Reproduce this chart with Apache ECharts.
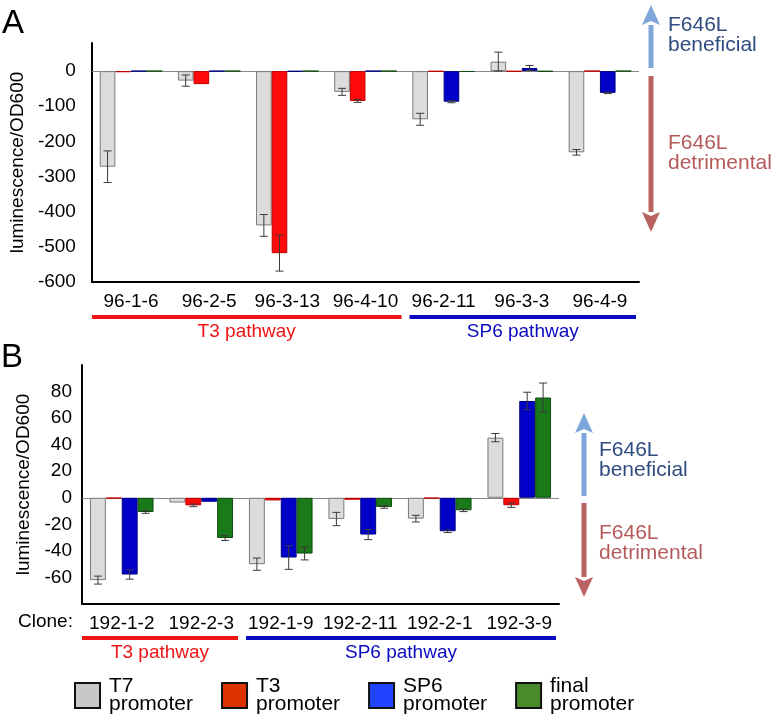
<!DOCTYPE html>
<html><head><meta charset="utf-8">
<script src="https://cdn.jsdelivr.net/npm/echarts@6/dist/echarts.min.js"></script>
<style>html,body{margin:0;padding:0;background:#fff}#c{width:780px;height:718px}</style>
</head><body><div id="c"></div>
<script>
// ---------- DATA ----------
const seriesNames = ['T7 promoter', 'T3 promoter', 'SP6 promoter', 'final promoter'];

const catsA = ['96-1-6', '96-2-5', '96-3-13', '96-4-10', '96-2-11', '96-3-3', '96-4-9'];
const t7A    = [-272, -27, -439, -59, -137, 27, -231];
const t7ErrA = [45, 16, 31, 10, 17, 27, 8];
const t3A    = [-3, -37, -518, -85, -1, -1, 0];
const t3ErrA = [0, 0, 51, 4, 0, 0, 0];
const sp6A   = [0, 0, -1, 0, -87, 9, -62];
const sp6ErrA= [0, 0, 0, 0, 3, 7, 2];
const finA   = [0, 0, 0, 0, -2, -1, 0];
const finErrA= [0, 0, 0, 0, 0, 0, 0];
const yTicksA = [-600, -500, -400, -300, -200, -100, 0];

const catsB = ['192-1-2', '192-2-3', '192-1-9', '192-2-11', '192-2-1', '192-3-9'];
const t7B    = [-62, -3.6, -50, -16, -15.7, 45.3];
const t7ErrB = [3, 0, 4.6, 5, 2.5, 3.1];
const t3B    = [-0.5, -5.7, -2, -1.5, -0.5, -5.6];
const t3ErrB = [0, 1, 0, 0, 0, 1.6];
const sp6B   = [-57.8, -3, -45, -27.7, -25.2, 72.9];
const sp6ErrB= [3.5, 0, 8.9, 3.8, 1, 6.6];
const finB   = [-10.7, -30.3, -42, -6.9, -9.4, 75.5];
const finErrB= [1, 1.8, 4.8, 1, 1, 10.9];
const yTicksB = [-60, -40, -20, 0, 20, 40, 60, 80];

const pathwaysA = [['T3 pathway', 0, 3], ['SP6 pathway', 4, 6]];
const pathwaysB = [['T3 pathway', 0, 1], ['SP6 pathway', 2, 5]];

// ---------- STYLE ----------
const FONT = '"Liberation Sans", Arial, Helvetica, sans-serif';
const barFill   = ['#dcdcdc', '#ff0a0a', '#0000c8', '#1a7a1a'];
const barBorder = ['#7a7a7a', '#c00000', '#000080', '#0d4d0d'];
const legendFill = ['#c8c8c8', '#dd3300', '#2244ff', '#4a8a2a'];
const pathColor = {'T3 pathway': '#ee1414', 'SP6 pathway': '#0a0ac0'};

const chart = echarts.init(document.getElementById('c'), null, {renderer: 'canvas'});

function errData(vals, errs) {
  const out = [];
  vals.forEach((v, s) => {
    v.forEach((val, i) => { if (errs[s][i] > 0) out.push([i, s, val, errs[s][i]]); });
  });
  return out;
}
function renderErr(params, api) {
  const cat = api.value(0), s = api.value(1), v = api.value(2), e = api.value(3);
  const cw = api.size([1, 0])[0];
  const bw = cw * 0.8 / 4;
  const cx = api.coord([cat, 0])[0] - cw * 0.4 + (s + 0.5) * bw;
  const yH = api.coord([cat, v + e])[1];
  const yL = api.coord([cat, v - e])[1];
  const st = {stroke: '#3a3a3a', lineWidth: 1};
  return {type: 'group', children: [
    {type: 'line', shape: {x1: cx, y1: yH, x2: cx, y2: yL}, style: st},
    {type: 'line', shape: {x1: cx - 4, y1: yH, x2: cx + 4, y2: yH}, style: st},
    {type: 'line', shape: {x1: cx - 4, y1: yL, x2: cx + 4, y2: yL}, style: st}
  ]};
}

function xAxisCfg(cats, gi) {
  return {type: 'category', gridIndex: gi, data: cats, boundaryGap: true,
    axisLine: {onZero: false, lineStyle: {color: '#000', width: 2}},
    axisTick: {inside: true, length: 7, lineStyle: {color: '#000', width: 2}},
    axisLabel: {interval: 0, fontSize: 19, color: '#000', fontFamily: FONT, margin: 10},
    splitLine: {show: false}};
}
function yAxisCfg(gi, min, max, interval, ticks, margin, nameGap) {
  return {type: 'value', gridIndex: gi, min: min, max: max, interval: interval,
    name: 'luminescence/OD600', nameLocation: 'middle', nameGap: nameGap,
    nameTextStyle: {fontSize: 19, color: '#000', fontFamily: FONT},
    axisLine: {show: true, lineStyle: {color: '#000', width: 2}},
    axisTick: {show: false}, splitLine: {show: false},
    axisLabel: {fontSize: 19, color: '#000', fontFamily: FONT, margin: margin,
      formatter: v => ticks.indexOf(v) >= 0 ? String(v) : ''}};
}

const series = [];
function addPanel(gi, vals, errs) {
  vals.forEach((v, s) => {
    const ser = {type: 'bar', name: seriesNames[s], xAxisIndex: gi, yAxisIndex: gi,
      data: v, barGap: '0%', barCategoryGap: '20%',
      itemStyle: {color: barFill[s], borderColor: barBorder[s], borderWidth: 1},
      emphasis: {disabled: true}};
    if (s === 0) {
      ser.markLine = {silent: true, symbol: ['none', 'none'], label: {show: false},
        lineStyle: {color: '#8a8a8a', width: 1, type: 'solid'}, data: [{yAxis: 0}], z: 1};
    }
    series.push(ser);
  });
  series.push({type: 'custom', xAxisIndex: gi, yAxisIndex: gi, z: 10, silent: true,
    encode: {x: 0, y: 2}, renderItem: renderErr, data: errData(vals, errs)});
}
addPanel(0, [t7A, t3A, sp6A, finA], [t7ErrA, t3ErrA, sp6ErrA, finErrA]);
addPanel(1, [t7B, t3B, sp6B, finB], [t7ErrB, t3ErrB, sp6ErrB, finErrB]);

const option = {
  animation: false,
  textStyle: {fontFamily: FONT},
  grid: [
    {left: 83, right: 141, top: 43, height: 239},
    {left: 82, right: 221, top: 365, height: 239}
  ],
  xAxis: [xAxisCfg(catsA, 0), xAxisCfg(catsB, 1)],
  yAxis: [yAxisCfg(0, -600, 80, 100, yTicksA, 16, 56), yAxisCfg(1, -80, 100, 20, yTicksB, 10, 48)],
  legend: {
    left: 74, top: 676, orient: 'horizontal', itemWidth: 25, itemHeight: 25, itemGap: 28, padding: 0,
    selectedMode: false,
    formatter: n => n.replace(' ', '\n'),
    textStyle: {fontSize: 21, lineHeight: 18, color: '#000', fontFamily: FONT, padding: [0, 0, 0, 4]},
    data: seriesNames.map((n, i) => ({name: n, icon: 'rect',
      itemStyle: {color: legendFill[i], borderColor: '#111', borderWidth: 2}}))
  },
  series: series
};
chart.setOption(option);

// ---------- ANNOTATIONS ----------
const g = [];
function txt(x, y, s, size, color, align, vAlign, lh) {
  g.push({type: 'text', x: x, y: y, silent: true,
    style: {text: s, fontSize: size, fill: color, fontFamily: FONT, align: align || 'left',
      verticalAlign: vAlign || 'middle', lineHeight: lh || size}});
}
txt(2, 24, 'A', 33, '#000');
txt(1, 358, 'B', 33, '#000');
txt(18, 622, 'Clone:', 19, '#000');

function pathways(list, gi, lineY, textY) {
  list.forEach(([name, a, b], k) => {
    const c0 = chart.convertToPixel({xAxisIndex: gi}, a);
    const c1 = chart.convertToPixel({xAxisIndex: gi}, b);
    const cw = (c1 - c0) / Math.max(1, b - a) || 80;
    const x1 = c0 - cw / 2 + (k === 0 ? 0 : 5);
    const x2 = c1 + cw / 2 - 3;
    g.push({type: 'line', silent: true, shape: {x1: x1, y1: lineY, x2: x2, y2: lineY},
      style: {stroke: pathColor[name], lineWidth: 4}});
    txt((x1 + x2) / 2, textY, name, 19, pathColor[name], 'center');
  });
}
pathways(pathwaysA, 0, 317, 332);
pathways(pathwaysB, 1, 638, 653);

function arrow(x, yTail, yTip, color) {
  const dir = yTip < yTail ? -1 : 1;
  const base = yTip - dir * 20;
  g.push({type: 'line', silent: true, shape: {x1: x, y1: yTail, x2: x, y2: base},
    style: {stroke: color, lineWidth: 5}});
  g.push({type: 'polygon', silent: true, shape: {points: [[x, yTip], [x - 9, base], [x, base + dir * 4], [x + 9, base]]},
    style: {fill: color}});
}
const blueA = '#7ea6d8', redA = '#b86262', blueT = '#2f4c80', redT = '#b45a5a';
arrow(651, 68, 5, blueA);
arrow(651, 76, 232, redA);
txt(668, 35, 'F646L\nbeneficial', 21, blueT, 'left', 'middle', 20);
txt(668, 153, 'F646L\ndetrimental', 21, redT, 'left', 'middle', 20);
arrow(584, 496, 413, blueA);
arrow(584, 503, 597, redA);
txt(599, 460, 'F646L\nbeneficial', 21, blueT, 'left', 'middle', 20);
txt(599, 543, 'F646L\ndetrimental', 21, redT, 'left', 'middle', 20);

chart.setOption({graphic: g});
</script></body></html>
